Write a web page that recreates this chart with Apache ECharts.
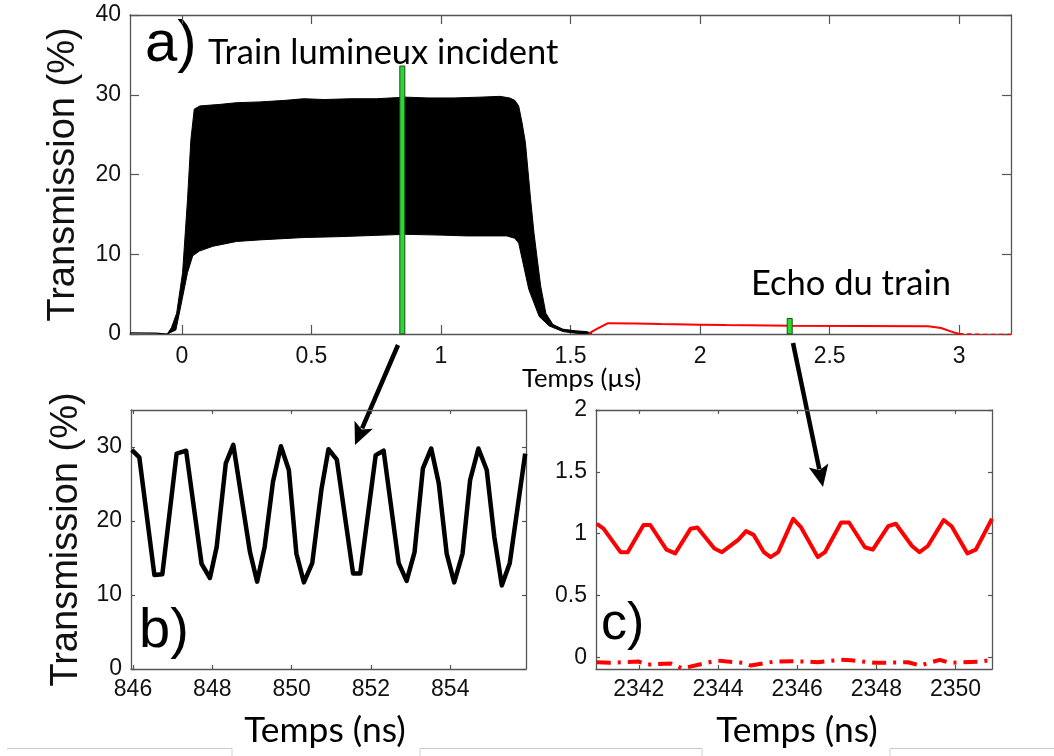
<!DOCTYPE html>
<html>
<head>
<meta charset="utf-8">
<script src="https://cdn.jsdelivr.net/npm/echarts@6/dist/echarts.min.js"></script>
<style>
  html, body { margin: 0; padding: 0; background: #fff; }
  #chart { width: 1054px; height: 756px; }
</style>
</head>
<body>
<div id="chart"></div>
<script>
// ---- panel a : whole pulse train, time in µs ----
const aTicksX = [0, 0.5, 1, 1.5, 2, 2.5, 3];
const aTicksY = [0, 10, 20, 30, 40];
// upper / lower envelope of the dense black oscillation
const aUpperEnv = [[-0.056, 0], [-0.04, 0.8], [-0.02, 2.6], [0.003, 7.7], [0.022, 16.9], [0.035, 24.4],
  [0.048, 28.2], [0.07, 28.6], [0.15, 28.8], [0.21, 29.0], [0.3, 29.1], [0.4, 29.3], [0.47, 29.5],
  [0.55, 29.4], [0.65, 29.5], [0.75, 29.5], [0.863, 29.7], [0.95, 29.6], [1.05, 29.6], [1.15, 29.7],
  [1.228, 29.8], [1.265, 29.6], [1.285, 29.3], [1.3, 28.6], [1.313, 26.5], [1.326, 24.0], [1.346, 16.9],
  [1.359, 12.7], [1.372, 9.3], [1.385, 6.0], [1.405, 2.6], [1.432, 1.2], [1.471, 0.6], [1.52, 0.4],
  [1.563, 0.3], [1.58, 0.1]];
const aLowerEnv = [[-0.056, 0], [-0.023, 0.5], [-0.004, 3.5], [0.022, 7.7], [0.042, 9.8], [0.068, 10.4],
  [0.12, 11.0], [0.211, 11.6], [0.3, 11.8], [0.472, 12.1], [0.6, 12.2], [0.863, 12.5], [1.0, 12.4],
  [1.1, 12.3], [1.254, 12.3], [1.285, 12.0], [1.3, 11.4], [1.339, 5.6], [1.379, 2.2], [1.418, 1.0],
  [1.471, 0.3], [1.52, 0.1], [1.58, 0]];
const aBaseline = [[-0.2, 0.15], [-0.1, 0.12], [-0.056, 0]];
const aEcho = [[1.57, 0.05], [1.6, 0.6], [1.645, 1.35], [1.75, 1.32], [1.85, 1.25], [2.0, 1.17], [2.1, 1.12],
  [2.35, 1.02], [2.6, 1.0], [2.88, 0.98], [2.93, 0.75], [2.97, 0.3], [3.0, 0.0]];
const aEchoTail = [[3.0, 0], [3.1, -0.1], [3.2, -0.1]];

// ---- panel b : zoom on the incident train, time in ns ----
const bWindow = [845.95, 855.91];
const bTop = 33.6;
const bTicksX = [846, 848, 850, 852, 854];
const bTicksY = [0, 10, 20, 30];
const bTrace = [[845.97, 29.6], [846.16, 28.6], [846.54, 12.7], [846.74, 12.8], [847.10, 29.1], [847.34, 29.5],
  [847.73, 14.2], [847.94, 12.3], [848.11, 16.5], [848.34, 27.8], [848.53, 30.3], [848.95, 15.8],
  [849.13, 11.8], [849.32, 16.5], [849.53, 25.3], [849.73, 30.1], [849.93, 26.9], [850.12, 15.6],
  [850.31, 11.7], [850.52, 14.3], [850.75, 24.2], [850.93, 29.7], [851.14, 28.3], [851.55, 12.9],
  [851.73, 12.9], [852.12, 28.9], [852.32, 29.5], [852.70, 14.3], [852.90, 11.9], [853.10, 15.8],
  [853.31, 27.1], [853.52, 29.8], [853.71, 25.1], [853.91, 15.6], [854.10, 11.7], [854.31, 15.6],
  [854.50, 25.5], [854.71, 29.8], [854.92, 26.9], [855.11, 17.9], [855.30, 11.3], [855.50, 14.3],
  [855.89, 29.1]];

// ---- panel c : zoom on the echo, time in ns ----
const cWindow = [2340.92, 2350.92];
const cTop = 1.95;
const cTicksX = [2342, 2344, 2346, 2348, 2350];
const cTicksY = [0, 0.5, 1, 1.5, 2];
const cEcho = [[2340.94, 1.08], [2341.11, 1.04], [2341.54, 0.85], [2341.72, 0.85], [2342.12, 1.07],
  [2342.29, 1.07], [2342.70, 0.87], [2342.92, 0.84], [2343.31, 1.04], [2343.48, 1.05], [2343.91, 0.88],
  [2344.10, 0.85], [2344.51, 0.95], [2344.71, 1.02], [2344.90, 0.99], [2345.16, 0.85], [2345.33, 0.81],
  [2345.52, 0.85], [2345.90, 1.12], [2346.10, 1.05], [2346.52, 0.81], [2346.70, 0.85], [2347.11, 1.09],
  [2347.31, 1.09], [2347.71, 0.89], [2347.91, 0.87], [2348.30, 1.06], [2348.49, 1.08], [2348.90, 0.90],
  [2349.09, 0.85], [2349.30, 0.90], [2349.70, 1.11], [2349.90, 1.06], [2350.30, 0.84], [2350.51, 0.87],
  [2350.92, 1.12]];
const cRef = [[2340.94, -0.04], [2341.28, -0.045], [2342.0, -0.035], [2342.2, -0.06], [2342.8, -0.05],
  [2343.1, -0.09], [2343.86, -0.035], [2344.0, -0.027], [2344.62, -0.045], [2344.83, -0.067],
  [2345.42, -0.035], [2345.85, -0.032], [2346.27, -0.035], [2346.52, -0.04], [2347.11, -0.021],
  [2347.37, -0.024], [2347.96, -0.045], [2348.17, -0.045], [2348.8, -0.04], [2349.1, -0.067],
  [2349.6, -0.021], [2349.86, -0.045], [2350.58, -0.035], [2350.96, -0.021]];

// green markers in panel a = the two zoom windows (ns -> µs)
const zoomMarks = [
  [bWindow[0] / 1000, bWindow[1] / 1000, bTop],
  [cWindow[0] / 1000, cWindow[1] / 1000, cTop]
];

const AXIS = '#555';
const LABEL = '#111';
const SANS = '"Liberation Sans", Arial, sans-serif';
const CAL = 'Lato, "Open Sans", sans-serif';
const plain = v => String(v);

function xAx(grid, min, max, ticks, pos, tickLen, show, margin) {
  return {
    type: 'value', gridIndex: grid, min: min, max: max, position: pos,
    axisLine: { show: true, onZero: false, lineStyle: { color: AXIS, width: 1.3 } },
    axisTick: { show: true, inside: true, length: tickLen, customValues: ticks, lineStyle: { color: AXIS, width: 1.2 } },
    axisLabel: { show: show, customValues: ticks, formatter: plain, fontFamily: SANS, fontSize: 23, color: LABEL, margin: margin || 9 },
    splitLine: { show: false }
  };
}
function yAx(grid, min, max, ticks, pos, tickLen, show, name, gap) {
  return {
    type: 'value', gridIndex: grid, min: min, max: max, position: pos,
    name: name || '', nameLocation: 'middle', nameGap: gap || 0,
    nameTextStyle: { fontFamily: SANS, fontSize: 38, color: '#111' },
    axisLine: { show: true, onZero: false, lineStyle: { color: AXIS, width: 1.3 } },
    axisTick: { show: true, inside: true, length: tickLen, customValues: ticks, lineStyle: { color: AXIS, width: 1.2 } },
    axisLabel: { show: show, customValues: ticks, formatter: plain, fontFamily: SANS, fontSize: 23, color: LABEL, margin: 9 },
    splitLine: { show: false }
  };
}

function envelopeItem(params, api) {
  const pts = aUpperEnv.map(p => api.coord(p)).concat(aLowerEnv.slice().reverse().map(p => api.coord(p)));
  return { type: 'polygon', shape: { points: pts }, style: { fill: '#000', stroke: '#000', lineWidth: 1 } };
}
function markItem(params, api) {
  const p0 = api.coord([api.value(0), api.value(2)]);
  const p1 = api.coord([api.value(1), 0]);
  const w = Math.max(p1[0] - p0[0], 5);
  const cx = (p0[0] + p1[0]) / 2;
  return { type: 'rect', shape: { x: cx - w / 2, y: p0[1], width: w, height: p1[1] - p0[1] },
    style: { fill: '#2ed62e', stroke: '#1d4d1d', lineWidth: 1 } };
}

function arrow(x0, y0, x1, y1) {
  const dx = x1 - x0, dy = y1 - y0, L = Math.hypot(dx, dy);
  const ux = dx / L, uy = dy / L, hl = 22, hw = 10;
  const bx = x1 - ux * hl, by = y1 - uy * hl;
  return [
    { type: 'line', shape: { x1: x0, y1: y0, x2: bx + ux * 4, y2: by + uy * 4 }, style: { stroke: '#000', lineWidth: 4.5 } },
    { type: 'polygon', shape: { points: [[x1, y1], [bx - uy * hw, by + ux * hw], [bx + ux * 5, by + uy * 5], [bx + uy * hw, by - ux * hw]] },
      style: { fill: '#000' } }
  ];
}
function txt(text, x, y, font, align) {
  return { type: 'text', x: x, y: y, style: { text: text, font: font, fill: '#000', align: align || 'left', verticalAlign: 'middle' } };
}
function hline(x1, x2, y) {
  return { type: 'line', shape: { x1: x1, y1: y, x2: x2, y2: y }, style: { stroke: '#c8c8c8', lineWidth: 1.2 } };
}
function vline(x, y1, y2) {
  return { type: 'line', shape: { x1: x, y1: y1, x2: x, y2: y2 }, style: { stroke: '#d0d0d0', lineWidth: 1 } };
}

const chart = echarts.init(document.getElementById('chart'), null, { renderer: 'canvas' });
chart.setOption({
  backgroundColor: '#fff',
  animation: false,
  grid: [
    { left: 130, top: 15, width: 881, height: 319 },
    { left: 131, top: 410, width: 395, height: 259 },
    { left: 596, top: 410, width: 396, height: 259 }
  ],
  xAxis: [
    xAx(0, -0.2, 3.2, aTicksX, 'bottom', 9, true, 11),
    xAx(0, -0.2, 3.2, aTicksX, 'top', 9, false),
    xAx(1, bWindow[0], bWindow[1], bTicksX, 'bottom', 4, true, 9),
    xAx(1, bWindow[0], bWindow[1], bTicksX, 'top', 4, false),
    xAx(2, cWindow[0], cWindow[1], cTicksX, 'bottom', 4, true, 9),
    xAx(2, cWindow[0], cWindow[1], cTicksX, 'top', 4, false)
  ],
  yAxis: [
    yAx(0, 0, 40, aTicksY, 'left', 9, true, 'Transmission (%)', 47),
    yAx(0, 0, 40, aTicksY, 'right', 9, false),
    yAx(1, 0, 35, bTicksY, 'left', 4, true, 'Transmission (%)', 45),
    yAx(1, 0, 35, bTicksY, 'right', 4, false),
    yAx(2, -0.095, 2, cTicksY, 'left', 4, true),
    yAx(2, -0.095, 2, cTicksY, 'right', 4, false)
  ],
  series: [
    { type: 'custom', xAxisIndex: 0, yAxisIndex: 0, data: [[0]], renderItem: envelopeItem, silent: true, clip: true },
    { type: 'line', xAxisIndex: 0, yAxisIndex: 0, data: aBaseline, symbol: 'none', lineStyle: { color: '#000', width: 1.2 } },
    { type: 'line', xAxisIndex: 0, yAxisIndex: 0, data: aEcho, symbol: 'none', lineStyle: { color: '#f00', width: 2 } },
    { type: 'line', xAxisIndex: 0, yAxisIndex: 0, data: aEchoTail, symbol: 'none', lineStyle: { color: '#f00', width: 2, type: [4, 4] } },
    { type: 'custom', xAxisIndex: 0, yAxisIndex: 0, data: zoomMarks, renderItem: markItem, silent: true, z: 5 },
    { type: 'line', xAxisIndex: 2, yAxisIndex: 2, data: bTrace, symbol: 'none', lineStyle: { color: '#000', width: 4.5, join: 'round' } },
    { type: 'line', xAxisIndex: 4, yAxisIndex: 4, data: cEcho, symbol: 'none', lineStyle: { color: '#f00', width: 4, join: 'round' } },
    { type: 'line', xAxisIndex: 4, yAxisIndex: 4, data: cRef, symbol: 'none', lineStyle: { color: '#f00', width: 4, type: [14, 7, 3, 7] } }
  ],
  graphic: [
    txt('a)', 145, 45, '58px ' + SANS),
    txt('Train lumineux incident', 208, 53, '34.5px ' + CAL),
    txt('Echo du train', 751, 284, '34.5px ' + CAL),
    txt('Temps (µs)', 522, 379, '25.6px ' + CAL),
    txt('b)', 139, 632, '56px ' + SANS),
    txt('c)', 601, 625, '52px ' + SANS),
    txt('Temps (ns)', 325, 731, '35.4px ' + CAL, 'center'),
    txt('Temps (ns)', 797, 731, '35.4px ' + CAL, 'center'),
    hline(7, 232, 748.5), hline(420, 702, 748.5), hline(890, 1054, 748.5),
    vline(232, 748.5, 756), vline(420, 748.5, 756), vline(702, 748.5, 756), vline(890, 748.5, 756)
  ].concat(arrow(398, 345, 355, 445), arrow(793, 343, 823, 487))
});
</script>
</body>
</html>
